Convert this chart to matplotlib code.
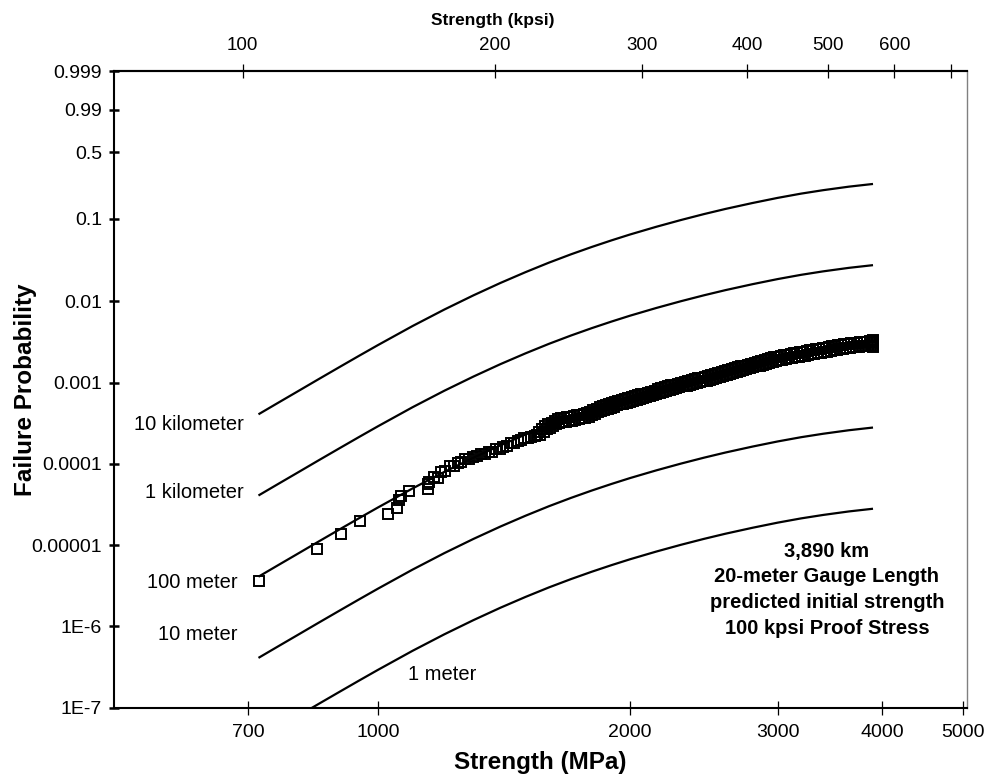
import numpy as np
import matplotlib
matplotlib.use("Agg")
import matplotlib.pyplot as plt
from matplotlib.ticker import NullLocator

plt.rcParams['font.family'] = ['Liberation Sans', 'DejaVu Sans']

# ---------------- data ----------------
# strengths (MPa) at which the predicted curves were read
curve_strength = [720, 760, 800, 850, 900, 950, 1000, 1100, 1200, 1300, 1400, 1500, 1600, 1700,
                  1800, 1900, 2000, 2150, 2300, 2450, 2600, 2800, 3000, 3200, 3400, 3650, 3900]

curve_10km = [4.083e-4, 5.661e-4, 7.704e-4, 1.110e-3, 1.562e-3, 2.152e-3, 2.904e-3, 4.985e-3,
              7.931e-3, 0.01184, 0.01678, 0.02273, 0.02968, 0.03743, 0.04592, 0.05506, 0.06478,
              0.0800, 0.09598, 0.1125, 0.1291, 0.1508, 0.1722, 0.1921, 0.2096, 0.2289, 0.2447]
curve_1km = [4.084e-5, 5.663e-5, 7.707e-5, 1.111e-4, 1.563e-4, 2.154e-4, 2.908e-4, 4.996e-4,
             7.960e-4, 1.190e-3, 1.691e-3, 2.296e-3, 3.008e-3, 3.808e-3, 4.690e-3, 5.647e-3,
             6.675e-3, 8.302e-3, 0.01004, 0.01186, 0.01373, 0.01622, 0.01872, 0.02110, 0.02325,
             0.02566, 0.02767]
curve_100m = [4.084e-6, 5.663e-6, 7.707e-6, 1.111e-5, 1.563e-5, 2.154e-5, 2.908e-5, 4.997e-5,
              7.963e-5, 1.191e-4, 1.692e-4, 2.299e-4, 3.013e-4, 3.815e-4, 4.701e-4, 5.663e-4,
              6.695e-4, 8.334e-4, 1.008e-3, 1.192e-3, 1.381e-3, 1.634e-3, 1.888e-3, 2.131e-3,
              2.349e-3, 2.596e-3, 2.802e-3]
curve_10m = [4.084e-7, 5.663e-7, 7.707e-7, 1.111e-6, 1.563e-6, 2.154e-6, 2.908e-6, 4.997e-6,
             7.963e-6, 1.191e-5, 1.692e-5, 2.299e-5, 3.013e-5, 3.815e-5, 4.701e-5, 5.663e-5,
             6.697e-5, 8.337e-5, 1.009e-4, 1.193e-4, 1.382e-4, 1.635e-4, 1.890e-4, 2.133e-4,
             2.352e-4, 2.599e-4, 2.806e-4]
curve_1m = [4.084e-8, 5.663e-8, 7.707e-8, 1.111e-7, 1.563e-7, 2.154e-7, 2.908e-7, 4.997e-7,
            7.963e-7, 1.191e-6, 1.692e-6, 2.299e-6, 3.013e-6, 3.815e-6, 4.701e-6, 5.663e-6,
            6.697e-6, 8.337e-6, 1.009e-5, 1.193e-5, 1.382e-5, 1.635e-5, 1.890e-5, 2.133e-5,
            2.352e-5, 2.599e-5, 2.806e-5]

curve_names = ["10 kilometer", "1 kilometer", "100 meter", "10 meter", "1 meter"]

# measured strengths (MPa) of the 20-m gauge data
data_strength = [
    721, 845, 904, 953, 1028, 1054, 1061, 1066, 1090, 1149, 1148,
    1152, 1166, 1178, 1190, 1204, 1218, 1232, 1246, 1258, 1272, 1286, 1300, 1314, 1328,
    1342, 1356, 1370, 1384, 1398, 1412, 1426, 1440, 1454, 1468, 1482, 1496, 1510, 1524,
    1538, 1548,
    1556, 1563, 1570, 1577, 1584, 1591,
    1598, 1605, 1612, 1619, 1626, 1633, 1640, 1647,
    1654, 1661, 1668, 1675, 1682, 1689, 1696,
    1704, 1712, 1720, 1728, 1736, 1744, 1752, 1760, 1768, 1776,
    1784, 1792, 1800, 1808, 1816, 1824, 1832, 1840, 1848, 1856,
    1864, 1872, 1880, 1888, 1896, 1904, 1912, 1920, 1928,
    1937, 1946, 1955, 1964, 1973, 1982, 1991, 2000, 2009, 2018, 2027, 2036, 2045, 2054,
    2063, 2072, 2081, 2090,
    2100, 2110, 2120, 2130, 2140, 2150, 2160, 2170, 2180, 2190, 2200, 2210, 2220, 2230,
    2240, 2250, 2260, 2270, 2280, 2290,
    2303, 2314, 2325, 2336, 2347, 2358, 2369, 2380, 2391, 2402, 2413, 2424, 2435, 2446,
    2457, 2468, 2479, 2490, 2501, 2512,
    2524, 2536, 2548, 2560, 2572, 2584, 2596, 2608, 2620, 2632, 2644, 2656, 2668, 2680,
    2692, 2704, 2716, 2728, 2740, 2752,
    2765, 2778, 2791, 2804, 2817, 2830, 2843, 2856, 2869, 2882, 2895, 2908, 2921, 2934,
    2947, 2960, 2973, 2986, 2999, 3012,
    3025, 3039, 3053, 3067, 3081, 3095, 3109, 3123, 3137, 3151, 3165, 3179, 3193, 3207,
    3221, 3235, 3249, 3263, 3277, 3291, 3305,
    3320, 3335, 3350, 3365, 3380, 3395, 3410, 3425, 3440, 3455, 3470, 3485, 3500, 3515,
    3530, 3545, 3560, 3575, 3590, 3605, 3620,
    3640, 3656, 3672, 3688, 3704, 3720, 3736, 3752, 3768, 3784, 3800, 3816, 3832, 3848,
    3864, 3880, 3896,
    3900, 3905, 3898, 3902, 3895, 3890,
]
# their failure probabilities
data_prob = [
    3.66e-6, 8.85e-6, 1.38e-5, 1.96e-5, 2.44e-5, 2.90e-5, 3.63e-5, 3.99e-5, 4.60e-5, 4.97e-5, 5.73e-5,
    6.0e-5, 6.9e-5, 6.8e-5, 7.9e-5, 8.1e-5, 9.3e-5, 9.5e-5, 1.04e-4, 1.05e-4, 1.14e-4, 1.15e-4,
    1.23e-4, 1.24e-4, 1.31e-4, 1.32e-4, 1.40e-4, 1.42e-4, 1.52e-4, 1.54e-4, 1.63e-4, 1.67e-4,
    1.79e-4, 1.82e-4, 1.93e-4, 1.95e-4, 2.06e-4, 2.07e-4, 2.17e-4, 2.19e-4, 2.27e-4,
    2.49e-4, 2.30e-4, 2.69e-4, 2.48e-4, 2.89e-4, 2.66e-4,
    3.07e-4, 2.80e-4, 3.23e-4, 2.94e-4, 3.39e-4, 3.08e-4, 3.55e-4, 3.22e-4,
    3.68e-4, 3.27e-4, 3.71e-4, 3.30e-4, 3.74e-4, 3.33e-4, 3.77e-4,
    3.38e-4, 3.86e-4, 3.47e-4, 3.95e-4, 3.54e-4, 4.04e-4, 3.63e-4, 4.13e-4, 3.70e-4, 4.22e-4,
    3.83e-4, 4.40e-4, 3.99e-4, 4.59e-4, 4.15e-4, 4.78e-4, 4.32e-4, 4.96e-4, 4.48e-4, 5.15e-4,
    4.64e-4, 5.32e-4, 4.79e-4, 5.49e-4, 4.94e-4, 5.66e-4, 5.09e-4, 5.83e-4, 5.25e-4,
    6.00e-4, 5.40e-4, 6.17e-4, 5.54e-4, 6.33e-4, 5.69e-4, 6.50e-4, 5.84e-4, 6.67e-4, 5.99e-4,
    6.84e-4, 6.14e-4, 7.01e-4, 6.28e-4, 7.17e-4, 6.43e-4, 7.34e-4, 6.58e-4,
    7.53e-4, 6.78e-4, 7.77e-4, 7.00e-4, 8.01e-4, 7.22e-4, 8.27e-4, 7.44e-4, 8.51e-4, 7.66e-4,
    8.76e-4, 7.88e-4, 9.01e-4, 8.09e-4, 9.25e-4, 8.32e-4, 9.50e-4, 8.54e-4, 9.75e-4, 8.75e-4,
    1.003e-3, 9.01e-4, 1.028e-3, 9.23e-4, 1.054e-3, 9.46e-4, 1.079e-3, 9.68e-4, 1.106e-3, 9.92e-4,
    1.131e-3, 1.014e-3, 1.156e-3, 1.037e-3, 1.182e-3, 1.059e-3, 1.208e-3, 1.083e-3, 1.234e-3, 1.105e-3,
    1.267e-3, 1.140e-3, 1.306e-3, 1.176e-3, 1.346e-3, 1.212e-3, 1.386e-3, 1.247e-3, 1.426e-3, 1.282e-3,
    1.466e-3, 1.318e-3, 1.506e-3, 1.354e-3, 1.545e-3, 1.388e-3, 1.586e-3, 1.424e-3, 1.626e-3, 1.459e-3,
    1.667e-3, 1.500e-3, 1.716e-3, 1.543e-3, 1.764e-3, 1.586e-3, 1.812e-3, 1.628e-3, 1.860e-3, 1.670e-3,
    1.908e-3, 1.714e-3, 1.956e-3, 1.756e-3, 2.004e-3, 1.798e-3, 2.052e-3, 1.841e-3, 2.100e-3, 1.884e-3,
    2.147e-3, 1.920e-3, 2.185e-3, 1.955e-3, 2.224e-3, 1.989e-3, 2.263e-3, 2.024e-3, 2.301e-3, 2.059e-3,
    2.340e-3, 2.092e-3, 2.379e-3, 2.127e-3, 2.418e-3, 2.161e-3, 2.457e-3, 2.196e-3, 2.495e-3, 2.230e-3,
    2.534e-3,
    2.266e-3, 2.577e-3, 2.305e-3, 2.620e-3, 2.343e-3, 2.665e-3, 2.382e-3, 2.708e-3, 2.421e-3, 2.752e-3,
    2.460e-3, 2.795e-3, 2.499e-3, 2.840e-3, 2.537e-3, 2.883e-3, 2.576e-3, 2.927e-3, 2.615e-3, 2.970e-3,
    2.654e-3,
    3.017e-3, 2.690e-3, 3.050e-3, 2.718e-3, 3.081e-3, 2.747e-3, 3.113e-3, 2.775e-3, 3.145e-3, 2.803e-3,
    3.178e-3, 2.832e-3, 3.210e-3, 2.860e-3, 3.241e-3, 2.889e-3, 3.273e-3,
    3.30e-3, 3.35e-3, 3.20e-3, 2.85e-3, 2.78e-3, 3.05e-3,
]
assert len(data_strength) == len(data_prob)

# axis ticks (the original chart prints "0.99" at the 0.9 position)
y_tick_values = [1e-7, 1e-6, 1e-5, 1e-4, 1e-3, 0.01, 0.1, 0.5, 0.9, 0.999]
y_tick_labels = ["1E-7", "1E-6", "0.00001", "0.0001", "0.001", "0.01", "0.1", "0.5", "0.99", "0.999"]
x_tick_values = [700, 1000, 2000, 3000, 4000, 5000]
x_tick_labels = ["700", "1000", "2000", "3000", "4000", "5000"]
kpsi_tick_values = [100, 200, 300, 400, 500, 600, 700]
kpsi_tick_labels = ["100", "200", "300", "400", "500", "600", ""]

annotation_lines = ["3,890 km", "20-meter Gauge Length", "predicted initial strength",
                    "100 kpsi Proof Stress"]

MPA_PER_KPSI = 6.895


# ---------------- Weibull probability scale ----------------
def weibull_fwd(F):
    F = np.asarray(F, dtype=float)
    with np.errstate(divide='ignore', invalid='ignore'):
        return np.log(-np.log1p(-F))


def weibull_inv(W):
    W = np.asarray(W, dtype=float)
    with np.errstate(over='ignore'):
        return -np.expm1(-np.exp(W))


fig = plt.figure(figsize=(9.85, 7.75), dpi=100)
ax = fig.add_axes([114 / 985, 1 - 707.5 / 775, (967 - 114) / 985, (707.5 - 71) / 775])
ax.set_xscale('log')
ax.set_yscale('function', functions=(weibull_fwd, weibull_inv))
ax.set_xlim(484, 5050)
ax.set_ylim(1e-7, 0.999)

for vals in [curve_10km, curve_1km, curve_100m, curve_10m, curve_1m]:
    ax.plot(curve_strength, vals, color='black', lw=1.6, solid_capstyle='butt',
            solid_joinstyle='round')

ax.plot(data_strength, data_prob, linestyle='none', marker='s', ms=7.0,
        mfc='none', mec='black', mew=1.4)

# curve labels
label_pos = [(244, 425, 'right'), (244, 492, 'right'), (238, 582, 'right'),
             (238, 634, 'right'), (442, 674, 'center')]
for name, (px, py, ha) in zip(curve_names, label_pos):
    fig.text(px / 985, 1 - py / 775, name, ha=ha, va='center', fontsize=14.5)

for i, line in enumerate(annotation_lines):
    fig.text(827 / 985, 1 - (551 + 26 * i) / 775, line, ha='center', va='center',
             fontsize=14.5, fontweight='bold')

# axes / ticks
ax.xaxis.set_minor_locator(NullLocator())
ax.set_xticks(x_tick_values, labels=x_tick_labels)
ax.set_yticks(y_tick_values, labels=y_tick_labels)
ax.yaxis.set_minor_locator(NullLocator())
ax.tick_params(axis='x', direction='inout', length=10, width=0.9, labelsize=14, pad=7)
ax.tick_params(axis='y', direction='inout', length=7, width=1.8, labelsize=14, pad=5)

for side in ['left', 'bottom', 'top']:
    ax.spines[side].set_linewidth(1.5)
    ax.spines[side].set_color('black')
ax.spines['right'].set_linewidth(1.0)
ax.spines['right'].set_color('#808080')

ax.set_xlabel('Strength (MPa)', fontsize=17.5, fontweight='bold')
ax.xaxis.set_label_coords(0.5, -0.068)
ax.xaxis.label.set_va('top')
ax.set_ylabel('Failure Probability', fontsize=17.5, fontweight='bold')
ax.yaxis.set_label_coords(-0.09, 0.5)

secax = ax.secondary_xaxis('top', functions=(lambda m: np.asarray(m) / MPA_PER_KPSI,
                                             lambda k: np.asarray(k) * MPA_PER_KPSI))
secax.set_xticks(kpsi_tick_values, labels=kpsi_tick_labels)
secax.xaxis.set_minor_locator(NullLocator())
secax.tick_params(direction='inout', length=10, width=0.9, labelsize=13.5, pad=7)
secax.spines['top'].set_linewidth(1.5)
secax.set_xlabel('Strength (kpsi)', fontsize=12.5, fontweight='bold')
secax.xaxis.set_label_coords(0.444, 1.073, transform=ax.transAxes)

fig.savefig('out.png', dpi=100, facecolor='white')
